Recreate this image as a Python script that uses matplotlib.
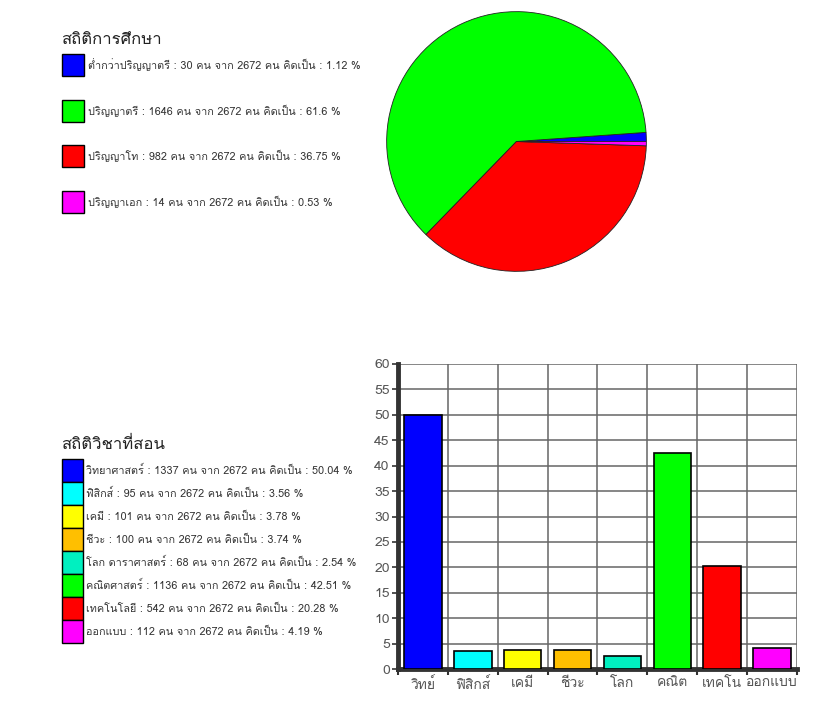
import matplotlib
matplotlib.use("Agg")
import matplotlib.pyplot as plt
from matplotlib import font_manager
from matplotlib.ft2font import FT2Font
from matplotlib.patches import Rectangle

# pick an installed family that has Thai glyphs
thai_family = None
for f in font_manager.fontManager.ttflist:
    try:
        if ord("ก") in FT2Font(f.fname).get_charmap():
            thai_family = f.name
            break
    except Exception:
        pass
families = ([thai_family] if thai_family else []) + ["DejaVu Sans"]
plt.rcParams["font.family"] = families

# education data (pie)
edu_title = "สถิติการศึกษา"
edu_names = ["ต่ำกว่าปริญญาตรี", "ปริญญาตรี", "ปริญญาโท", "ปริญญาเอก"]
edu_counts = [30, 1646, 982, 14]
edu_pct = [1.12, 61.6, 36.75, 0.53]
edu_colors = ["#0000FF", "#00FF00", "#FF0000", "#FF00FF"]
total = 2672

# subject data (bars)
subj_title = "สถิติวิชาที่สอน"
subj_names = ["วิทยาศาสตร์", "ฟิสิกส์", "เคมี", "ชีวะ", "โลก ดาราศาสตร์",
              "คณิตศาสตร์", "เทคโนโลยี", "ออกแบบ"]
subj_short = ["วิทย์", "ฟิสิกส์", "เคมี", "ชีวะ", "โลก", "คณิต", "เทคโน", "ออกแบบ"]
subj_counts = [1337, 95, 101, 100, 68, 1136, 542, 112]
subj_pct = [50.04, 3.56, 3.78, 3.74, 2.54, 42.51, 20.28, 4.19]
subj_colors = ["#0000FF", "#00FFFF", "#FFFF00", "#FFBF00", "#00F0C0",
               "#00FF00", "#FF0000", "#FF00FF"]

W, H = 820, 708
fig = plt.figure(figsize=(W / 100, H / 100), dpi=100)

def px(x0, y0, x1, y1):
    return [x0 / W, 1 - y1 / H, (x1 - x0) / W, (y1 - y0) / H]

# pie
ax_pie = fig.add_axes(px(386, 11, 647, 272))
ax_pie.pie(edu_pct, colors=edu_colors, startangle=0, counterclock=True,
           wedgeprops=dict(edgecolor="#222222", linewidth=0.6))
ax_pie.set_xlim(-1.005, 1.005)
ax_pie.set_ylim(-1.005, 1.005)
ax_pie.set_aspect("equal")

# bars
ax = fig.add_axes(px(398, 364, 797, 669))
x = range(len(subj_pct))
ax.bar(x, subj_pct, width=0.75, color=subj_colors, edgecolor="black",
       linewidth=1.2, zorder=3)
ax.set_xlim(-0.5, len(subj_pct) - 0.5)
ax.set_ylim(0, 60)
ax.set_yticks(range(0, 61, 5))
ax.set_xticks([i - 0.5 for i in range(len(subj_pct) + 1)], minor=False)
ax.set_xticklabels([])
ax.set_xticks(list(x), minor=True)
ax.set_xticklabels(subj_short, minor=True)
ax.tick_params(axis="x", which="minor", length=0, pad=6, labelsize=10,
               labelcolor="#555555")
ax.tick_params(axis="x", which="major", length=4, width=1.5, color="#333333",
               direction="out")
ax.tick_params(axis="y", length=4, width=1.2, color="#333333", pad=2,
               labelsize=10, labelcolor="#555555")
ax.grid(True, which="major", color="#666666", linewidth=1.1, zorder=0)
for s in ["left", "bottom"]:
    ax.spines[s].set_linewidth(3.5)
    ax.spines[s].set_color("#333333")
for s in ["top", "right"]:
    ax.spines[s].set_visible(False)

# legends drawn on a pixel overlay
ov = fig.add_axes([0, 0, 1, 1], zorder=5)
ov.set_xlim(0, W)
ov.set_ylim(H, 0)
ov.axis("off")
ov.patch.set_alpha(0)

ov.text(61, 40, edu_title, fontsize=12, va="center", ha="left", color="#222222")
for i, (n, c, p, col) in enumerate(zip(edu_names, edu_counts, edu_pct, edu_colors)):
    y0 = 54 + i * 45.7
    ov.add_patch(Rectangle((62, y0), 22, 22, facecolor=col, edgecolor="black",
                           linewidth=1))
    ov.text(88, y0 + 11, f"{n} : {c} คน จาก {total} คน คิดเป็น : {p:g} %",
            fontsize=7.8, va="center", ha="left", color="#333333")

ov.text(61, 445, subj_title, fontsize=12, va="center", ha="left", color="#222222")
for i, (n, c, p, col) in enumerate(zip(subj_names, subj_counts, subj_pct, subj_colors)):
    y0 = 459 + i * 23
    ov.add_patch(Rectangle((62, y0), 21, 23, facecolor=col, edgecolor="black",
                           linewidth=1))
    ov.text(86, y0 + 11.5, f"{n} : {c} คน จาก {total} คน คิดเป็น : {p:g} %",
            fontsize=7.8, va="center", ha="left", color="#333333")

fig.savefig("out.png", dpi=100)
